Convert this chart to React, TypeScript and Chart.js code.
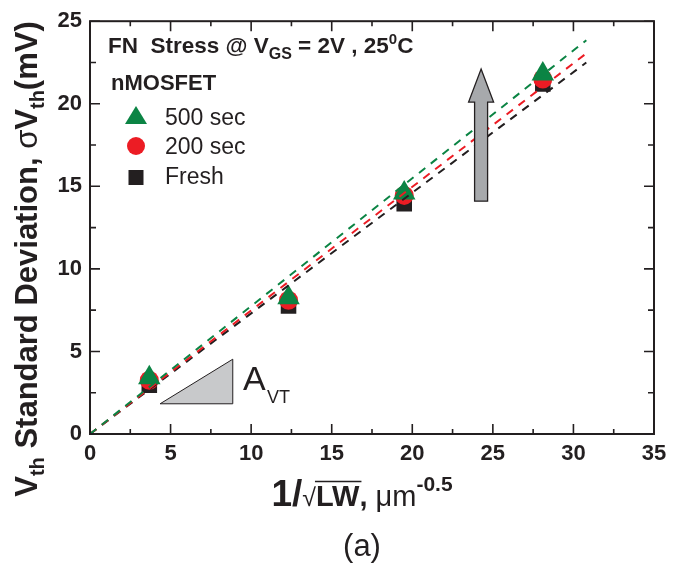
import React, { useEffect, useRef } from "react";
import { Chart, registerables } from "chart.js";

Chart.register(...registerables);

// ---- data ----
const xValues = [3.68, 12.32, 19.5, 28.1];
const freshValues = [2.95, 7.75, 13.95, 21.2];
const sec200Values = [3.25, 8.1, 14.45, 21.5];
const sec500Values = [3.4, 8.25, 14.6, 21.8];

const fitX = [0, 30.8];
const fitFresh = [0, 22.5];
const fit200 = [0, 23.05];
const fit500 = [0, 23.85];

const xTicks = [0, 5, 10, 15, 20, 25, 30, 35];
const yTicks = [0, 5, 10, 15, 20, 25];

const GREEN = "#0b8444";
const RED = "#ec1c24";
const BLACK = "#231f20";
const SANS = "'Liberation Sans', Arial, Helvetica, sans-serif";

type Part = { t: string; font: string; dy?: number };

function richWidth(ctx: CanvasRenderingContext2D, parts: Part[]) {
  let w = 0;
  for (const p of parts) {
    ctx.font = p.font;
    w += ctx.measureText(p.t).width;
  }
  return w;
}

function drawRich(
  ctx: CanvasRenderingContext2D,
  x: number,
  y: number,
  parts: Part[],
  align: "left" | "center" = "left"
) {
  const total = richWidth(ctx, parts);
  let cx = align === "center" ? x - total / 2 : x;
  ctx.textAlign = "left";
  ctx.textBaseline = "alphabetic";
  for (const p of parts) {
    ctx.font = p.font;
    const w = ctx.measureText(p.t).width;
    ctx.fillText(p.t, cx, y + (p.dy || 0));
    cx += w;
  }
  return total;
}

function pt(points: number[], vals: number[]) {
  return points.map((x, i) => ({ x, y: vals[i] }));
}

const decorPlugin = {
  id: "decor",
  afterDatasetsDraw(chart: any) {
    const ctx: CanvasRenderingContext2D = chart.ctx;
    const xs = chart.scales.x;
    const ys = chart.scales.y;
    const { left, right, top, bottom } = chart.chartArea;
    ctx.save();

    // A_VT triangle
    ctx.beginPath();
    ctx.moveTo(xs.getPixelForValue(4.35), ys.getPixelForValue(1.83));
    ctx.lineTo(xs.getPixelForValue(8.86), ys.getPixelForValue(1.83));
    ctx.lineTo(xs.getPixelForValue(8.86), ys.getPixelForValue(4.53));
    ctx.closePath();
    ctx.fillStyle = "#c8c9cb";
    ctx.fill();
    ctx.lineWidth = 1;
    ctx.strokeStyle = BLACK;
    ctx.stroke();

    // A_VT text
    ctx.fillStyle = BLACK;
    ctx.font = `34px ${SANS}`;
    ctx.textAlign = "left";
    ctx.textBaseline = "alphabetic";
    ctx.fillText("A", 243, 390);
    ctx.font = `18px ${SANS}`;
    ctx.fillText("VT", 267, 403);

    // Arrow
    const ax = xs.getPixelForValue(24.27);
    const tipY = ys.getPixelForValue(22.1);
    const headY = ys.getPixelForValue(20.1);
    const baseY = ys.getPixelForValue(14.1);
    ctx.beginPath();
    ctx.moveTo(ax, tipY);
    ctx.lineTo(ax + 12.5, headY);
    ctx.lineTo(ax + 6.5, headY);
    ctx.lineTo(ax + 6.5, baseY);
    ctx.lineTo(ax - 6.5, baseY);
    ctx.lineTo(ax - 6.5, headY);
    ctx.lineTo(ax - 12.5, headY);
    ctx.closePath();
    ctx.fillStyle = "#a7a9ac";
    ctx.fill();
    ctx.lineWidth = 1.3;
    ctx.strokeStyle = BLACK;
    ctx.stroke();

    // Frame
    ctx.lineWidth = 2;
    ctx.strokeStyle = BLACK;
    ctx.strokeRect(left, top, right - left, bottom - top);

    // inward ticks
    ctx.lineWidth = 1.6;
    ctx.beginPath();
    for (let v = 0; v <= 35.001; v += 2.5) {
      const px = xs.getPixelForValue(v);
      const len = Math.abs(v % 5) < 1e-6 ? 10 : 5;
      ctx.moveTo(px, bottom);
      ctx.lineTo(px, bottom - len);
      ctx.moveTo(px, top);
      ctx.lineTo(px, top + len);
    }
    for (let v = 0; v <= 25.001; v += 2.5) {
      const py = ys.getPixelForValue(v);
      const len = Math.abs(v % 5) < 1e-6 ? 10 : 6;
      ctx.moveTo(left, py);
      ctx.lineTo(left + len, py);
      ctx.moveTo(right, py);
      ctx.lineTo(right - len, py);
    }
    ctx.stroke();

    // Header texts
    ctx.fillStyle = BLACK;
    const B = (s: number) => `bold ${s}px ${SANS}`;
    const N = (s: number) => `${s}px ${SANS}`;
    drawRich(ctx, 108, 53, [
      { t: "FN  Stress @ V", font: B(22.5) },
      { t: "GS", font: B(16), dy: 6 },
      { t: " = 2V , 25", font: B(22.5) },
      { t: "0", font: B(15), dy: -9 },
      { t: "C", font: B(22.5) },
    ]);
    drawRich(ctx, 111, 90, [{ t: "nMOSFET", font: B(22) }]);

    // Legend markers
    const mx = 136;
    ctx.fillStyle = GREEN;
    ctx.beginPath();
    ctx.moveTo(mx, 106);
    ctx.lineTo(mx + 11, 124);
    ctx.lineTo(mx - 11, 124);
    ctx.closePath();
    ctx.fill();
    ctx.fillStyle = RED;
    ctx.beginPath();
    ctx.arc(mx, 146, 9, 0, Math.PI * 2);
    ctx.fill();
    ctx.fillStyle = BLACK;
    ctx.fillRect(mx - 7.5, 170, 15, 15);

    ctx.fillStyle = BLACK;
    drawRich(ctx, 165, 125, [{ t: "500 sec", font: N(23) }]);
    drawRich(ctx, 165, 154, [{ t: "200 sec", font: N(23) }]);
    drawRich(ctx, 165, 184, [{ t: "Fresh", font: N(23) }]);

    // X axis title
    const cxT = (left + right) / 2 - 10;
    const parts: Part[] = [
      { t: "1/", font: B(37) },
      { t: "\u221A", font: N(25) },
      { t: "LW", font: B(29) },
      { t: ",", font: B(29) },
      { t: " \u03BCm", font: N(29) },
      { t: "-0.5", font: B(21), dy: -15 },
    ];
    const tw = richWidth(ctx, parts);
    const sx = cxT - tw / 2;
    ctx.font = B(37);
    const w1 = ctx.measureText("1/").width;
    ctx.font = N(25);
    const wr = ctx.measureText("\u221A").width;
    ctx.font = B(29);
    const wlw = ctx.measureText("LW").width;
    drawRich(ctx, sx, 506, parts);
    ctx.lineWidth = 1.3;
    ctx.beginPath();
    ctx.moveTo(sx + w1 + wr - 1, 481.5);
    ctx.lineTo(sx + w1 + wr + wlw + 2, 481.5);
    ctx.stroke();

    // (a)
    ctx.textAlign = "center";
    ctx.font = N(31);
    ctx.fillText("(a)", cxT, 556);

    // Y axis title (rotated)
    ctx.save();
    ctx.translate(37, 259);
    ctx.rotate(-Math.PI / 2);
    drawRich(
      ctx,
      0,
      0,
      [
        { t: "V", font: B(31) },
        { t: "th", font: B(20), dy: 7 },
        { t: " Standard Deviation, ", font: B(31) },
        { t: "\u03C3", font: N(31) },
        { t: "V", font: B(31) },
        { t: "th", font: B(20), dy: 7 },
        { t: "(mV)", font: B(31) },
      ],
      "center"
    );
    ctx.restore();

    ctx.restore();
  },
};

export default function App() {
  const ref = useRef<HTMLCanvasElement | null>(null);

  useEffect(() => {
    if (!ref.current) return;
    const lineDs = (label: string, vals: number[], color: string) => ({
      type: "line" as const,
      label,
      data: pt(fitX, vals),
      borderColor: color,
      borderWidth: 2,
      borderDash: [8, 7],
      pointRadius: 0,
      fill: false,
      showLine: true,
    });
    const chart = new Chart(ref.current, {
      type: "scatter",
      data: {
        datasets: [
          lineDs("fit 500", fit500, GREEN),
          lineDs("fit 200", fit200, RED),
          lineDs("fit fresh", fitFresh, BLACK),
          {
            label: "500 sec",
            data: pt(xValues, sec500Values),
            pointStyle: "triangle",
            pointRadius: 13,
            backgroundColor: GREEN,
            borderColor: GREEN,
            borderWidth: 0,
          },
          {
            label: "200 sec",
            data: pt(xValues, sec200Values),
            pointStyle: "circle",
            pointRadius: 9.5,
            backgroundColor: RED,
            borderColor: RED,
            borderWidth: 0,
          },
          {
            label: "Fresh",
            data: pt(xValues, freshValues),
            pointStyle: "rect",
            pointRadius: 11,
            backgroundColor: BLACK,
            borderColor: BLACK,
            borderWidth: 0,
          },
        ] as any,
      },
      options: {
        responsive: false,
        animation: false,
        maintainAspectRatio: false,
        layout: { padding: { top: 19, right: 26, left: 0, bottom: 0 } },
        plugins: {
          legend: { display: false },
          tooltip: { enabled: false },
        },
        scales: {
          x: {
            type: "linear",
            min: 0,
            max: 35,
            afterFit: (s: any) => {
              s.height = 129;
            },
            afterBuildTicks: (s: any) => {
              s.ticks = xTicks.map((v) => ({ value: v }));
            },
            ticks: {
              color: BLACK,
              font: { family: SANS, size: 22, weight: "bold" },
              padding: 7,
              maxRotation: 0,
            },
            grid: { display: false, drawTicks: false },
            border: { display: false },
          },
          y: {
            type: "linear",
            min: 0,
            max: 25,
            afterFit: (s: any) => {
              s.width = 90;
            },
            afterBuildTicks: (s: any) => {
              s.ticks = yTicks.map((v) => ({ value: v }));
            },
            ticks: {
              color: BLACK,
              font: { family: SANS, size: 22, weight: "bold" },
              padding: 8,
            },
            grid: { display: false, drawTicks: false },
            border: { display: false },
          },
        },
      } as any,
      plugins: [decorPlugin],
    });
    return () => chart.destroy();
  }, []);

  return (
    <div style={{ position: "absolute", left: 0, top: 0, width: 680, height: 563, background: "#fff" }}>
      <canvas ref={ref} width={680} height={563} style={{ width: 680, height: 563, display: "block" }} />
    </div>
  );
}
